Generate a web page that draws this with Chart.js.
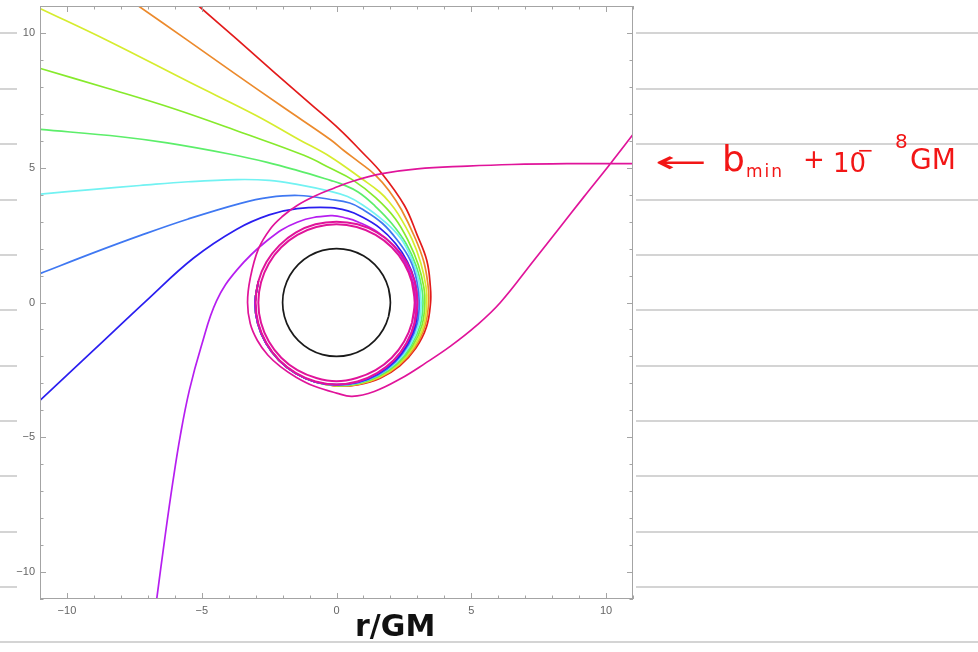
<!DOCTYPE html>
<html>
<head>
<meta charset="utf-8">
<title>Photon orbits around a black hole</title>
<script src="https://cdn.jsdelivr.net/npm/chart.js@4.4.1/dist/chart.umd.min.js"></script>
<style>
  html, body { margin: 0; padding: 0; background: #fff; }
  #wrap { position: relative; width: 978px; height: 652px; overflow: hidden; }
  #chart { position: absolute; left: 0; top: 0; }
  .note { position: absolute; white-space: nowrap; line-height: 1; font-family: "DejaVu Sans", sans-serif; }
  .red { color: #f21616; }
</style>
</head>
<body>
<div id="wrap">
  <canvas id="chart" width="978" height="652"></canvas>
  <div class="note" style="left:355px; top:611px; font-size:30px; font-weight:bold; color:#111;">r/GM</div>
  <div class="note red" style="left:655px; top:147px; font-size:30px; transform:scaleX(2.1); transform-origin:left center;">←</div>
  <div class="note red" style="left:722px; top:141px; font-size:36px;">b</div>
  <div class="note red" style="left:746px; top:163px; font-size:17px; letter-spacing:2px;">min</div>
  <div class="note red" style="left:803px; top:146px; font-size:26px;">+</div>
  <div class="note red" style="left:833px; top:150px; font-size:26px;">10</div>
  <div class="note red" style="left:857px; top:140px; font-size:20px;">−</div>
  <div class="note red" style="left:895px; top:131px; font-size:20px;">8</div>
  <div class="note red" style="left:910px; top:146px; font-size:28px;">GM</div>
</div>
<script>
// axis
const axisMin = -11;
const axisMax = 11;
const majorTicks = [-10, -5, 0, 5, 10];

// trajectories, [x, y] in units of GM
// common track on the left of the photon sphere, where the bundle has merged
const bundleTail = [[-0.79, -2.95], [-1.52, -2.63], [-2.14, -2.14], [-2.62, -1.51], [-2.92, -0.78], [-3.02, 0.0], [-2.9, 0.78]];
const redPath = [[-5.11, 11.0], [-3.7, 9.77], [-2.32, 8.55], [-1.0, 7.4], [0.15, 6.39], [0.89, 5.64], [1.69, 4.78], [2.52, 3.6], [2.99, 2.51], [3.35, 1.56], [3.48, 0.61], [3.49, 0.0], [3.34, -0.9], [2.94, -1.7], [2.35, -2.35], [1.62, -2.81], [0.82, -3.05], [0.0, -3.1]];
const orangePath = [[-7.39, 11.03], [-5.6, 9.78], [-3.81, 8.52], [-2.0, 7.26], [-0.22, 6.04], [0.27, 5.64], [0.85, 5.2], [1.45, 4.72], [1.95, 4.15], [2.41, 3.44], [2.9, 2.43], [3.24, 1.51], [3.4, 0.6], [3.42, 0.0], [3.28, -0.88], [2.9, -1.68], [2.32, -2.32], [1.61, -2.78], [0.82, -3.04], [0.0, -3.09]];
const yellowPath = [[-10.98, 10.9], [-8.5, 9.72], [-5.41, 8.15], [-3.0, 6.95], [-1.4, 6.05], [-0.22, 5.4], [0.95, 4.58], [1.61, 4.09], [1.97, 3.71], [2.29, 3.28], [2.8, 2.35], [3.13, 1.46], [3.32, 0.59], [3.35, 0.0], [3.23, -0.87], [2.86, -1.65], [2.3, -2.3], [1.6, -2.76], [0.81, -3.02], [0.0, -3.09]];
const limePath = [[-10.98, 8.68], [-8.5, 7.95], [-6.03, 7.19], [-3.5, 6.3], [-1.21, 5.46], [-0.22, 4.98], [0.6, 4.55], [1.45, 3.89], [2.18, 3.11], [2.68, 2.25], [3.03, 1.41], [3.24, 0.57], [3.28, 0.0], [3.17, -0.85], [2.81, -1.63], [2.27, -2.27], [1.58, -2.74], [0.81, -3.01], [0.0, -3.08]];
const greenPath = [[-10.98, 6.42], [-8.0, 6.15], [-6.28, 5.92], [-3.93, 5.5], [-2.57, 5.2], [-1.46, 4.9], [-0.22, 4.53], [0.15, 4.41], [0.8, 4.1], [1.44, 3.57], [2.05, 2.93], [2.59, 2.17], [2.95, 1.37], [3.16, 0.56], [3.21, 0.0], [3.11, -0.83], [2.77, -1.6], [2.25, -2.25], [1.57, -2.72], [0.8, -2.99], [0.0, -3.07]];
const cyanPath = [[-10.98, 4.02], [-9.0, 4.2], [-7.3, 4.34], [-5.5, 4.48], [-3.7, 4.56], [-2.5, 4.53], [-1.46, 4.38], [-0.22, 4.12], [0.41, 3.93], [0.97, 3.62], [1.75, 3.03], [2.38, 2.38], [2.79, 1.61], [3.05, 0.82], [3.14, 0.0], [3.05, -0.82], [2.73, -1.58], [2.22, -2.22], [1.56, -2.69], [0.8, -2.98], [0.0, -3.07]];
const skyPath = [[-10.98, 1.08], [-9.0, 1.85], [-7.27, 2.49], [-5.5, 3.1], [-3.56, 3.68], [-2.5, 3.9], [-1.4, 3.97], [-0.22, 3.82], [0.49, 3.69], [0.93, 3.48], [1.7, 2.94], [2.28, 2.28], [2.73, 1.58], [2.98, 0.8], [3.07, 0.0], [2.99, -0.8], [2.68, -1.55], [2.19, -2.19], [1.55, -2.68], [0.8, -2.97], [0.0, -3.06]];
const bluePath = [[-10.98, -3.61], [-9.0, -1.76], [-7.05, 0.07], [-5.3, 1.65], [-3.7, 2.72], [-2.5, 3.25], [-1.46, 3.48], [-0.22, 3.52], [0.45, 3.39], [0.86, 3.22], [1.6, 2.77], [2.19, 2.19], [2.63, 1.52], [2.91, 0.78], [3.0, 0.0], [2.94, -0.79], [2.64, -1.53], [2.17, -2.17], [1.53, -2.65], [0.79, -2.96], [0.0, -3.05]];
const violetPath = [[-6.67, -11.0], [-6.37, -8.75], [-6.07, -6.65], [-5.79, -4.91], [-5.46, -3.26], [-5.02, -1.63], [-4.45, 0.06], [-3.7, 1.2], [-2.57, 2.3], [-1.46, 2.98], [-0.22, 3.22], [0.41, 3.12], [0.8, 2.99], [1.52, 2.62], [2.11, 2.11], [2.55, 1.48], [2.84, 0.76], [2.94, 0.0], [2.88, -0.77], [2.6, -1.5], [2.14, -2.14], [1.52, -2.63], [0.79, -2.95], [0.0, -3.05]];
// b = b_min + 1e-8 GM: comes in from the right, swings round, leaves to the upper right
const criticalPath = [[11.0, 5.15], [8.55, 5.15], [6.5, 5.12], [4.85, 5.06], [3.0, 4.96], [1.69, 4.78], [0.6, 4.5], [-0.1, 4.24], [-0.8, 3.95], [-1.46, 3.6], [-2.0, 3.2], [-2.45, 2.74], [-2.9, 1.98], [-3.2, 0.9], [-3.3, 0.0], [-3.2, -0.78], [-2.94, -1.4], [-2.55, -1.95], [-2.08, -2.38], [-1.5, -2.77], [-0.84, -3.1], [0.0, -3.36], [0.58, -3.48], [1.4, -3.3], [2.37, -2.83], [3.3, -2.25], [4.23, -1.62], [5.2, -0.85], [6.08, 0.0], [7.32, 1.56], [8.3, 2.8], [9.17, 3.91], [10.16, 5.15], [11.02, 6.26]];
// windings of the same orbit near the photon sphere
const ringInner = [[2.8, -0.75], [2.9, 0.0], [2.8, 0.75], [2.51, 1.45], [2.05, 2.05], [1.45, 2.51], [0.75, 2.8], [0.0, 2.9], [-0.75, 2.8], [-1.45, 2.51], [-2.05, 2.05], [-2.51, 1.45], [-2.8, 0.75], [-2.9, 0.0], [-2.8, -0.75], [-2.51, -1.45], [-2.05, -2.05], [-1.45, -2.51], [-0.75, -2.8], [0.0, -2.92], [0.75, -2.8], [1.45, -2.51], [2.05, -2.05], [2.51, -1.45], [2.8, -0.75], [2.9, 0.0], [2.8, 0.75]];
const ringOuter = [[2.9, -0.78], [3.0, 0.0], [2.9, 0.78], [2.6, 1.5], [2.12, 2.12], [1.5, 2.6], [0.78, 2.9], [0.0, 3.0], [-0.78, 2.9], [-1.5, 2.6], [-2.12, 2.12], [-2.6, 1.5], [-2.9, 0.78], [-3.0, 0.0], [-2.9, -0.78], [-2.6, -1.5], [-2.12, -2.14], [-1.5, -2.62], [-0.78, -2.93], [0.0, -3.04], [0.78, -2.93], [1.5, -2.62], [2.12, -2.14], [2.6, -1.5], [2.9, -0.78], [3.0, 0.0], [2.9, 0.78]];
// horizon r = 2GM
const horizon = [[1.932, -0.518], [2.0, 0.0], [1.932, 0.518], [1.732, 1.0], [1.414, 1.414], [1.0, 1.732], [0.518, 1.932], [0.0, 2.0], [-0.518, 1.932], [-1.0, 1.732], [-1.414, 1.414], [-1.732, 1.0], [-1.932, 0.518], [-2.0, 0.0], [-1.932, -0.518], [-1.732, -1.0], [-1.414, -1.414], [-1.0, -1.732], [-0.518, -1.932], [0.0, -2.0], [0.518, -1.932], [1.0, -1.732], [1.414, -1.414], [1.732, -1.0], [1.932, -0.518], [2.0, 0.0], [1.932, 0.518]];

const rainbowPaths = [redPath, orangePath, yellowPath, limePath, greenPath, cyanPath, skyPath, bluePath, violetPath];
const curvePaths = rainbowPaths.map(p => p.concat(bundleTail)).concat([criticalPath, ringInner, ringOuter, horizon]);
const curveLabels = ['b1', 'b2', 'b3', 'b4', 'b5', 'b6', 'b7', 'b8', 'b9', 'b_min + 1e-8', 'b_min + 1e-8 (ring)', 'b_min + 1e-8 (ring 2)', 'horizon'];
const curveColors = ['#e31b1b', '#ec8a2c', '#d6ec2e', '#86ea2c', '#5cee6a', '#72f2f2', '#3f78f2', '#2a1ef0', '#b61ef0', '#e0149a', '#e0149a', '#e0149a', '#1a1a1a'];

// notebook ruling behind the plot
const ruling = {
    id: 'ruling',
    beforeDraw(chart) {
        const ctx = chart.ctx;
        const rows = [33, 89, 144, 200, 255, 310, 366, 421, 476, 532, 587];
        ctx.save();
        ctx.fillStyle = '#fff';
        ctx.fillRect(0, 0, chart.width, chart.height);
        ctx.strokeStyle = '#c6c6c6';
        ctx.lineWidth = 1.5;
        ctx.beginPath();
        rows.forEach(r => {
            ctx.moveTo(0, r); ctx.lineTo(17, r);
            ctx.moveTo(636, r); ctx.lineTo(chart.width, r);
        });
        ctx.moveTo(0, 642); ctx.lineTo(chart.width, 642);
        ctx.stroke();
        ctx.restore();
    }
};

// Mathematica-style frame with inward ticks on all four sides
const frame = {
    id: 'frame',
    afterDatasetsDraw(chart) {
        const { ctx, chartArea: a, scales: { x, y } } = chart;
        ctx.save();
        ctx.strokeStyle = '#a4a4a4';
        ctx.lineWidth = 1;
        ctx.strokeRect(a.left + 0.5, a.top + 0.5, a.right - a.left - 1, a.bottom - a.top - 1);
        ctx.beginPath();
        for (let v = axisMin; v <= axisMax; v++) {
            const len = majorTicks.includes(v) ? 6 : 3.5;
            const px = Math.round(x.getPixelForValue(v)) + 0.5;
            ctx.moveTo(px, a.bottom); ctx.lineTo(px, a.bottom - len);
            ctx.moveTo(px, a.top); ctx.lineTo(px, a.top + len);
            const py = Math.round(y.getPixelForValue(v)) + 0.5;
            ctx.moveTo(a.left, py); ctx.lineTo(a.left + len, py);
            ctx.moveTo(a.right, py); ctx.lineTo(a.right - len, py);
        }
        ctx.stroke();
        ctx.restore();
    }
};

const tickLabel = v => (v < 0 ? '\u2212' + Math.abs(v) : String(v));

const axisOptions = (fitSize, isX) => ({
    type: 'linear',
    min: axisMin,
    max: axisMax,
    grid: { display: false, drawTicks: false },
    border: { display: false },
    ticks: {
        padding: 5,
        color: '#666',
        font: { family: 'Liberation Sans, Arial, sans-serif', size: 11 },
        callback: tickLabel
    },
    afterBuildTicks: scale => { scale.ticks = majorTicks.map(v => ({ value: v })); },
    afterFit: scale => {
        scale.paddingTop = 0;
        scale.paddingBottom = 0;
        scale.paddingLeft = 0;
        scale.paddingRight = 0;
        if (isX) scale.height = fitSize; else scale.width = fitSize;
    }
});

const datasets = curvePaths.map((pts, i) => ({
    label: curveLabels[i],
    data: pts.map(([x, y]) => ({ x, y })),
    showLine: true,
    borderColor: curveColors[i],
    backgroundColor: curveColors[i],
    borderWidth: i === 10 || i === 11 ? 2 : 1.7,
    pointRadius: 0,
    tension: i >= 10 ? 0.34 : 0.4,
    fill: false,
    clip: 0,
    order: 100 - i
}));

new Chart(document.getElementById('chart'), {
    type: 'scatter',
    data: { datasets },
    options: {
        responsive: false,
        animation: false,
        layout: { padding: { left: 0, top: 6, right: 345, bottom: 0 } },
        scales: {
            x: axisOptions(53, true),
            y: axisOptions(40, false)
        },
        plugins: {
            legend: { display: false },
            tooltip: { enabled: false }
        }
    },
    plugins: [ruling, frame]
});
</script>
</body>
</html>
